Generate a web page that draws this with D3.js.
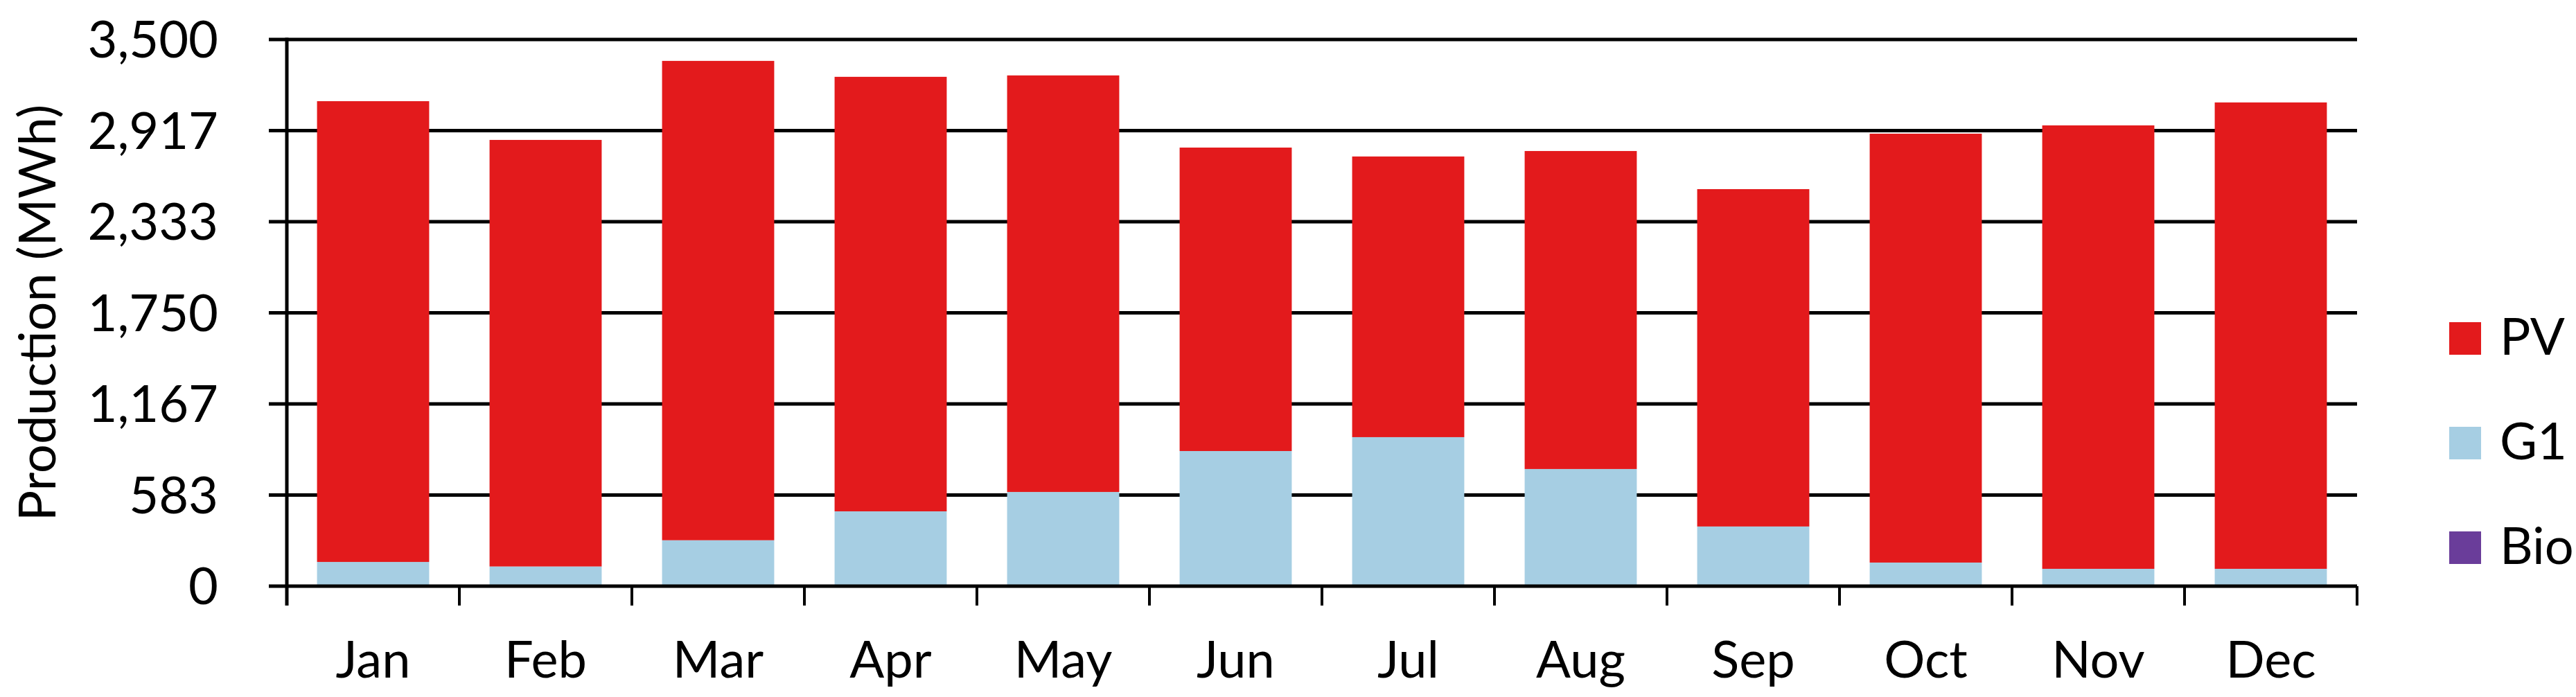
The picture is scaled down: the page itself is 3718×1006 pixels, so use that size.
<!DOCTYPE html>
<html>
<head>
<meta charset="utf-8">
<script src="https://cdn.jsdelivr.net/npm/d3@7"></script>
<style>
  html, body { margin: 0; padding: 0; background: #fff; }
  svg text { font-family: Lato, "Open Sans", sans-serif; fill: #000; }
</style>
</head>
<body>
<svg id="chart" width="3718" height="1006"></svg>
<script>
// ---- data ----
const months = ["Jan","Feb","Mar","Apr","May","Jun","Jul","Aug","Sep","Oct","Nov","Dec"];
const bio = [0,0,0,0,0,0,0,0,0,0,0,0];
const g1  = [155,126,294,479,603,865,954,750,382,151,111,111];
const pv  = [2950,2731,3069,2782,2667,1943,1797,2036,2160,2746,2839,2986];
const seriesNames = ["Bio","G1","PV"];
const seriesColors = { PV: "#e31a1c", G1: "#a6cee3", Bio: "#6a3d9a" };
const legendOrder = ["PV","G1","Bio"];
const yMax = 3500;
const yTicks = [0, 3500/6, 7000/6, 1750, 14000/6, 17500/6, 3500];
const yTitle = "Production (MWh)";

// ---- layout ----
(function () {
const svg = d3.select("#chart");
const mLeft = 414, mRight = 3402, mTop = 57, mBottom = 846;
const tickLen = 28;
const fs = 74;

const x = d3.scaleBand().domain(months).range([mLeft, mRight]).paddingInner(0.35).paddingOuter(0.175);
const y = d3.scaleLinear().domain([0, yMax]).range([mBottom, mTop]);

const rows = months.map((m, i) => ({ month: m, Bio: bio[i], G1: g1[i], PV: pv[i] }));
const stack = d3.stack().keys(seriesNames)(rows);

// gridlines (under bars)
svg.append("g").selectAll("line").data(yTicks.filter(t => t > 0)).join("line")
  .attr("x1", mLeft - 26).attr("x2", mRight)
  .attr("y1", d => y(d)).attr("y2", d => y(d))
  .attr("stroke", "#000").attr("stroke-width", 5);

// bars
svg.append("g").selectAll("g").data(stack).join("g")
  .attr("fill", d => seriesColors[d.key])
  .selectAll("rect").data(d => d).join("rect")
  .attr("x", d => x(d.data.month))
  .attr("width", x.bandwidth())
  .attr("y", d => y(d[1]))
  .attr("height", d => Math.max(0, y(d[0]) - y(d[1])));

// zero line
svg.append("line").attr("x1", mLeft - 26).attr("x2", mRight)
  .attr("y1", y(0)).attr("y2", y(0)).attr("stroke", "#000").attr("stroke-width", 5);

// y axis line
svg.append("line").attr("x1", mLeft).attr("x2", mLeft)
  .attr("y1", mTop - 2.5).attr("y2", mBottom + tickLen)
  .attr("stroke", "#000").attr("stroke-width", 5);

// x ticks at band boundaries
const step = x.step();
const bounds = d3.range(months.length + 1).map(i => mLeft + i * step);
svg.append("g").selectAll("line").data(bounds.slice(1)).join("line")
  .attr("x1", d => d).attr("x2", d => d)
  .attr("y1", mBottom).attr("y2", mBottom + tickLen)
  .attr("stroke", "#000").attr("stroke-width", 4);

// y tick labels
const fmt = d3.format(",.0f");
svg.append("g").selectAll("text").data(yTicks).join("text")
  .attr("x", 315).attr("y", d => y(d) + 26)
  .attr("text-anchor", "end").attr("font-size", fs)
  .text(d => fmt(d));

// x labels
svg.append("g").selectAll("text").data(months).join("text")
  .attr("x", d => x(d) + x.bandwidth() / 2).attr("y", 978)
  .attr("text-anchor", "middle").attr("font-size", fs)
  .text(d => d);

// y title
svg.append("text")
  .attr("transform", `translate(80, ${(mTop + mBottom) / 2}) rotate(-90)`)
  .attr("text-anchor", "middle").attr("font-size", fs)
  .text(yTitle);

// legend
const lg = svg.append("g").selectAll("g").data(legendOrder).join("g")
  .attr("transform", (d, i) => `translate(3535, ${465 + i * 151})`);
lg.append("rect").attr("width", 46).attr("height", 47).attr("fill", d => seriesColors[d]);
lg.append("text").attr("x", 73).attr("y", 47).attr("font-size", fs).text(d => d);
})();
</script>
</body>
</html>
